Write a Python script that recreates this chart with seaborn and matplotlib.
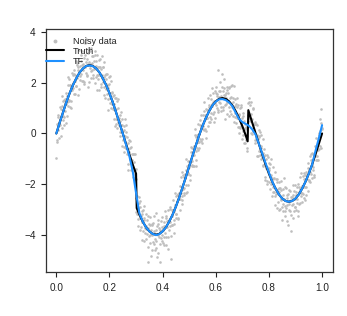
import numpy as np
import pandas as pd
import matplotlib
matplotlib.use("Agg")
import matplotlib.pyplot as plt
import seaborn as sns

# noisy observations, first batch, equally spaced on [0, 1]
noisy_y_a = [
    -0.98, -0.26, 0.65, 0.14, 0.39, 1.04, 0.32, 0.68, 0.20, 1.09,
    0.54, 1.32, 0.33, 1.22, 1.17, 1.60, 1.23, 2.22, 1.07, 1.31,
    1.06, 1.92, 1.84, 2.38, 1.73, 1.98, 1.55, 2.36, 2.08, 2.87,
    1.87, 2.72, 1.51, 2.51, 2.42, 2.66, 2.29, 3.10, 2.09, 2.70,
    2.51, 2.98, 2.04, 3.57, 2.40, 2.83, 2.33, 2.73, 3.18, 2.03,
    2.58, 3.25, 2.46, 2.78, 3.05, 2.19, 2.87, 2.61, 3.27, 2.25,
    2.88, 1.72, 2.64, 2.30, 2.90, 2.32, 2.64, 1.82, 3.07, 2.30,
    2.62, 1.85, 2.23, 1.40, 2.17, 1.74, 2.37, 1.80, 1.37, 1.96,
    2.27, 1.41, 1.00, 1.61, 1.27, 0.97, 1.54, 1.15, 0.29, 1.41,
    0.96, 0.21, 1.01, 0.61, 0.32, 0.04, 0.51, 0.86, 0.10, 0.33,
    0.09, -0.55, 0.14, 0.59, -0.56, -0.57, -0.14, -1.22, -0.63, -0.24,
    -0.56, -1.00, -0.54, -1.41, -1.04, -1.72, -1.13, -1.40, -0.80, -1.80,
    -2.54, -3.18, -2.95, -3.67, -2.76, -3.34, -2.68, -3.71, -3.18, -3.50,
    -3.01, -4.27, -3.42, -3.92, -3.65, -3.79, -3.43, -5.07, -3.28, -4.06,
    -3.63, -4.35, -3.80, -4.61, -3.59, -4.28, -3.92, -3.28, -4.18, -4.54,
    -3.81, -4.88, -3.59, -4.03, -3.72, -4.39, -3.82, -4.15, -3.30, -4.01,
    -3.82, -4.42, -3.49, -3.93, -3.28, -4.08, -3.45, -4.58, -3.48, -3.81,
    -2.92, -3.50, -4.98, -3.04, -3.61, -3.03, -3.58, -3.05, -2.36, -3.18,
    -3.17, -2.43, -3.36, -2.59, -2.36, -2.09, -2.61, -2.36, -2.79, -1.52,
    -2.20, -1.74, -2.35, -1.76, -2.37, -1.46, -2.33, -1.08, -1.58, -1.33,
    -1.64, -1.09, -0.55, -1.29, -0.59, -0.80, -1.27, -0.49, 0.16, -0.68,
    -1.06, -0.05, -0.34, -0.07, -0.56, 0.35, -0.22, 0.73, -0.21, 0.33,
    0.17, 0.89, 0.14, 0.57, -0.17, 0.97, 0.62, 0.91, 0.31, 1.13,
    0.64, 1.54, 0.59, 1.17, 1.10, 1.60, 0.84, 1.28, 0.61, 1.62,
    1.12, 1.57, 2.50, 0.91, 1.43, 1.68, 1.19, 0.88, 1.84, 1.39,
    1.04, 2.14, 1.51, 1.12, 1.61, 1.42, 0.78, 1.72, 1.24, 1.84,
    1.06, 1.40, 0.78, 1.86, 1.04, 1.40, 1.01, 1.86, 0.64, 1.07,
    0.41, 1.05, 0.63, 1.14, 0.02, 0.75, 0.23, 1.06, 0.41, 0.63,
    0.11, 0.68, -0.38, 0.17, 0.36, 0.26, -0.56, -0.10, 0.73, 1.41,
    0.75, 1.12, 0.03, 0.78, 0.56, 0.97, 0.08, 0.39, -0.26, 0.39,
    -0.16, 0.33, -0.88, -0.20, -0.10, -0.14, -0.87, -0.56, -0.06, -0.95,
    -1.28, -0.76, -0.60, -1.19, -1.73, -1.02, -1.33, -1.87, -0.93, -1.45,
    -1.92, -1.22, -1.82, -1.63, -2.49, -1.33, -2.11, -1.77, -2.47, -2.14,
    -2.41, -1.90, -2.95, -2.21, -1.92, -2.32, -2.97, -2.25, -2.58, -3.41,
    -2.20, -2.78, -2.60, -3.06, -2.11, -2.96, -2.55, -3.46, -2.40, -2.79,
    -2.23, -3.05, -2.62, -3.84, -2.50, -2.78, -2.04, -3.07, -2.59, -2.89,
    -2.32, -2.60, -2.11, -3.07, -2.33, -2.80, -2.19, -2.46, -1.57, -2.71,
    -2.12, -2.40, -1.57, -2.12, -1.65, -2.45, -1.64, -1.81, -1.35, -1.84,
    -1.43, -1.93, -0.82, -1.60, -1.24, -1.31, -0.80, -1.65, -0.89, -0.49,
    -0.54, -0.91, -0.62, -1.06, 0.01, -0.63, 0.09, 0.43, 0.95, 0.17,
]

# second batch, sitting between the first batch's x positions
noisy_y_b = [
    -0.33, 0.36, 0.75, -0.18, 0.46, 0.57, -0.11, 0.98, 1.49, 0.69,
    1.30, 0.67, 0.90, 1.38, 0.42, 0.68, 1.49, 1.90, 1.30, 2.16,
    1.93, 1.29, 1.02, 1.88, 2.32, 1.79, 2.52, 1.55, 2.30, 1.86,
    2.80, 2.18, 2.64, 1.77, 3.31, 2.13, 2.86, 2.35, 3.27, 2.08,
    2.76, 1.94, 3.09, 2.62, 3.75, 2.26, 2.94, 1.82, 2.83, 3.29,
    2.74, 2.18, 3.38, 2.50, 2.32, 3.06, 2.55, 2.01, 3.12, 2.68,
    2.33, 3.12, 2.17, 2.64, 1.70, 2.93, 1.94, 2.54, 2.21, 2.62,
    2.02, 2.84, 1.54, 2.32, 1.96, 2.36, 1.58, 1.92, 0.92, 2.25,
    1.21, 1.61, 2.09, 1.17, 1.64, 1.50, 0.56, 0.95, 1.42, 0.57,
    0.37, 1.28, 0.45, 1.37, 0.62, 0.73, -0.09, 0.32, -0.48, 0.56,
    -0.27, 0.29, -0.75, -0.10, 0.33, 0.07, -0.83, -0.38, -1.43, -0.73,
    -1.01, -0.29, -1.46, -0.81, -1.20, -0.82, -1.59, -0.81, -2.09, -1.39,
    -3.11, -2.48, -3.40, -2.97, -2.51, -2.92, -3.81, -3.27, -4.21, -3.08,
    -3.84, -3.36, -2.86, -3.72, -4.16, -3.18, -3.96, -3.75, -4.50, -3.59,
    -4.00, -3.29, -4.86, -3.62, -4.02, -3.55, -4.36, -3.85, -4.60, -3.15,
    -4.24, -3.67, -4.71, -3.41, -4.10, -3.88, -5.08, -3.48, -4.25, -3.68,
    -4.34, -3.65, -4.08, -3.05, -4.40, -3.35, -3.71, -3.02, -4.11, -3.43,
    -3.67, -3.00, -4.06, -3.26, -3.63, -2.64, -3.44, -3.92, -2.81, -2.49,
    -3.33, -2.68, -2.39, -3.39, -2.59, -2.30, -3.03, -1.73, -2.47, -2.62,
    -1.64, -2.17, -2.43, -1.61, -1.00, -2.03, -1.27, -1.62, -2.02, -1.19,
    -1.16, -1.83, -0.72, -1.09, -1.24, -1.30, -0.55, -0.87, -0.06, -1.27,
    -0.14, -0.58, 0.37, -0.67, -0.04, -0.34, 0.53, -0.28, 0.25, -0.38,
    0.75, 0.28, 1.26, 0.19, 0.74, 0.08, 0.91, 0.61, 1.40, 0.46,
    1.05, 0.47, 1.36, 0.82, 1.81, 0.77, 1.26, 0.47, 1.67, 1.21,
    1.85, 1.01, 1.48, 0.83, 1.68, 1.23, 2.05, 1.03, 1.47, 2.34,
    1.66, 0.92, 1.79, 0.56, 1.52, 1.15, 1.83, 1.25, 1.61, 0.71,
    1.81, 0.89, 1.43, 1.16, 1.93, 0.70, 1.25, 0.46, 1.36, 0.80,
    1.17, 0.71, 1.41, 0.24, 0.76, 0.25, 0.99, 0.28, 1.14, -0.21,
    0.81, -0.05, 0.51, -0.36, 0.20, -0.25, 0.24, -0.68, 1.22, 0.62,
    1.26, 0.51, 1.25, 0.52, -0.01, 0.11, 1.00, 0.12, 0.44, -0.36,
    0.38, -0.30, -0.05, -0.89, 0.13, -0.68, 0.04, -1.01, -0.50, -0.84,
    -0.22, -1.24, -0.91, -1.85, -0.86, -1.37, -0.85, -1.99, -1.43, -1.18,
    -1.35, -2.18, -1.02, -1.99, -1.78, -2.32, -1.82, -2.31, -1.52, -2.84,
    -1.82, -2.27, -1.79, -2.70, -2.17, -3.03, -2.17, -2.64, -1.87, -2.89,
    -2.45, -3.07, -1.78, -2.88, -3.25, -2.14, -2.84, -2.43, -3.62, -2.66,
    -3.03, -2.29, -3.24, -2.51, -2.81, -2.45, -3.35, -2.29, -2.91, -2.05,
    -3.03, -2.45, -2.76, -2.01, -3.28, -2.10, -2.74, -1.71, -2.35, -2.06,
    -2.36, -1.69, -2.57, -1.80, -2.65, -1.52, -2.10, -1.65, -2.29, -1.16,
    -1.86, -0.90, -1.53, -1.03, -1.75, -0.78, -1.46, -0.89, -1.72, -0.85,
    -1.05, -0.18, -1.05, -0.33, -0.64, -0.06, -0.51, 0.59, -0.58, 0.21,
]

noisy_x = np.concatenate([np.linspace(0, 1, len(noisy_y_a)),
                          np.linspace(0.00125, 0.99875, len(noisy_y_b))])
noisy_y = np.array(noisy_y_a + noisy_y_b)

# underlying piecewise signal
truth_x = [0, 0.0125, 0.025, 0.0375, 0.05, 0.0625, 0.075, 0.0875, 0.1, 0.1125,
           0.125, 0.1375, 0.15, 0.1625, 0.175, 0.1875, 0.2, 0.2125, 0.225, 0.2375,
           0.25, 0.2625, 0.275, 0.2875, 0.3, 0.3025, 0.3125, 0.325, 0.3375, 0.35,
           0.3625, 0.375, 0.3875, 0.4, 0.4125, 0.425, 0.4375, 0.45, 0.4625, 0.475,
           0.4875, 0.5, 0.5125, 0.525, 0.5375, 0.55, 0.5625, 0.575, 0.5875, 0.6,
           0.6125, 0.625, 0.6375, 0.65, 0.6625, 0.675, 0.6875, 0.7, 0.7125, 0.72,
           0.7225, 0.7375, 0.75, 0.7625, 0.775, 0.7875, 0.8, 0.8125, 0.825, 0.8375,
           0.85, 0.8625, 0.875, 0.8875, 0.9, 0.9125, 0.925, 0.9375, 0.95, 0.9625,
           0.975, 0.9875, 1.0]
truth_y = [0, 0.42, 0.83, 1.23, 1.59, 1.91, 2.18, 2.41, 2.57, 2.67,
           2.70, 2.67, 2.57, 2.41, 2.18, 1.91, 1.59, 1.23, 0.83, 0.42,
           0, -0.42, -0.83, -1.23, -1.59, -2.95, -3.21, -3.48, -3.71, -3.87,
           -3.97, -4.00, -3.97, -3.87, -3.71, -3.48, -3.21, -2.89, -2.53, -2.13,
           -1.72, -1.30, -0.88, -0.47, -0.07, 0.29, 0.61, 0.88, 1.11, 1.27,
           1.37, 1.40, 1.37, 1.27, 1.11, 0.88, 0.61, 0.29, -0.07, -0.31,
           0.92, 0.42, 0, -0.42, -0.83, -1.23, -1.59, -1.91, -2.18, -2.41,
           -2.57, -2.67, -2.70, -2.67, -2.57, -2.41, -2.18, -1.91, -1.59, -1.23,
           -0.83, -0.42, 0]

# trend filtering fit
tf_x = [0, 0.0125, 0.025, 0.0375, 0.05, 0.0625, 0.075, 0.0875, 0.1, 0.1125,
        0.125, 0.1375, 0.15, 0.1625, 0.175, 0.1875, 0.2, 0.2125, 0.225, 0.2375,
        0.25, 0.2625, 0.275, 0.2875, 0.3, 0.3125, 0.325, 0.3375, 0.35,
        0.3625, 0.375, 0.3875, 0.4, 0.4125, 0.425, 0.4375, 0.45, 0.4625, 0.475,
        0.4875, 0.5, 0.5125, 0.525, 0.5375, 0.55, 0.5625, 0.575, 0.5875, 0.6,
        0.6125, 0.625, 0.6375, 0.65, 0.6625, 0.675, 0.6875, 0.7, 0.7125, 0.725,
        0.7375, 0.75, 0.7625, 0.775, 0.7875, 0.8, 0.8125, 0.825, 0.8375,
        0.85, 0.8625, 0.875, 0.8875, 0.9, 0.9125, 0.925, 0.9375, 0.95, 0.9625,
        0.975, 0.9875, 1.0]
tf_y = [0, 0.42, 0.83, 1.23, 1.59, 1.91, 2.18, 2.41, 2.57, 2.67,
        2.69, 2.66, 2.57, 2.41, 2.18, 1.91, 1.59, 1.23, 0.83, 0.42,
        0, -0.45, -0.90, -1.50, -2.35, -3.15, -3.48, -3.71, -3.87,
        -3.97, -4.02, -3.98, -3.87, -3.71, -3.48, -3.21, -2.89, -2.53, -2.13,
        -1.72, -1.30, -0.88, -0.47, -0.07, 0.29, 0.61, 0.88, 1.11, 1.26,
        1.35, 1.36, 1.32, 1.23, 1.08, 0.82, 0.58, 0.45, 0.38, 0.30,
        0.16, -0.05, -0.42, -0.80, -1.18, -1.55, -1.90, -2.18, -2.41,
        -2.57, -2.67, -2.70, -2.67, -2.57, -2.41, -2.18, -1.91, -1.59, -1.23,
        -0.70, -0.20, 0.33]

sns.set_style("ticks")
plt.rcParams["font.family"] = ["Liberation Sans", "DejaVu Sans"]

fig = plt.figure(figsize=(3.47, 3.16), dpi=100)
ax = fig.add_axes([0.1317, 0.1383, 0.8271, 0.769])

sns.scatterplot(x=noisy_x, y=noisy_y, ax=ax, color="#BEBEBE", s=3.5,
                linewidth=0, label="Noisy data", zorder=1)
sns.lineplot(x=truth_x, y=truth_y, ax=ax, color="black", lw=1.5,
             label="Truth", estimator=None, sort=False, zorder=2)
sns.lineplot(x=tf_x, y=tf_y, ax=ax, color="#1E90FF", lw=1.5,
             label="TF", estimator=None, sort=False, zorder=3)

ax.set_xlim(-0.04, 1.04)
ax.set_ylim(-5.49, 4.12)
ax.set_xticks([0.0, 0.2, 0.4, 0.6, 0.8, 1.0])
ax.set_xticklabels(["0.0", "0.2", "0.4", "0.6", "0.8", "1.0"])
ax.set_yticks([-4, -2, 0, 2, 4])
ax.set_yticklabels(["\u22124", "\u22122", "0", "2", "4"])
ax.tick_params(direction="out", length=3.5, width=0.8, color="#222222",
               labelsize=7.2, labelcolor="#222222")
ax.tick_params(axis="y", pad=3.6)
ax.tick_params(axis="x", pad=4.3)
for sp in ax.spines.values():
    sp.set_visible(True)
    sp.set_color("#333333")
    sp.set_linewidth(0.9)

leg = ax.legend(loc="upper left", bbox_to_anchor=(0.001, 0.97), frameon=False,
                fontsize=6.6, handlelength=2.0, handletextpad=0.9,
                labelspacing=0.12, borderpad=0, borderaxespad=0, markerscale=1.5)
for t in leg.get_texts():
    t.set_color("#222222")

fig.savefig("out.png", dpi=100)
